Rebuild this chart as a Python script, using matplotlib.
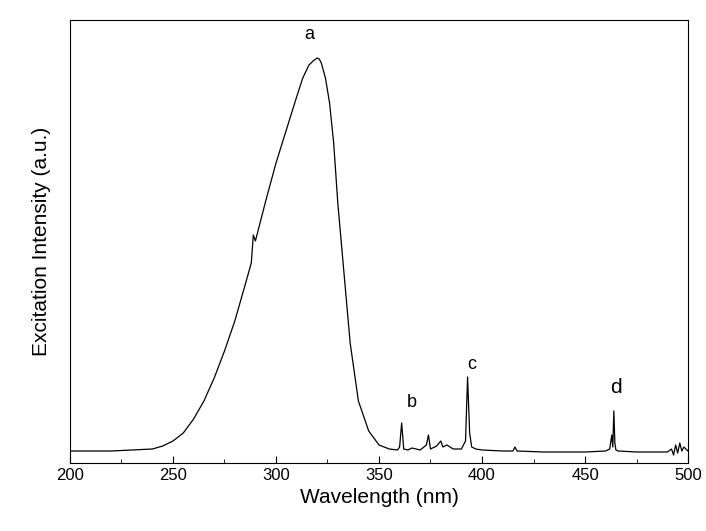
import numpy as np
import matplotlib.pyplot as plt

# wavelength (nm) and intensity (a.u.)
wavelength = [200, 220, 240, 245, 250, 255, 260, 265, 270, 275, 280, 285, 288, 289, 290,
              295, 300, 305, 310, 313, 316, 318, 320, 321, 322, 324, 326, 328, 330, 333,
              336, 340, 345, 350, 355, 359, 360, 361, 362, 364, 366, 370, 373, 374, 375,
              378, 380, 381, 383, 386, 390, 392, 393, 394, 395, 397, 400, 410, 415, 416,
              417, 430, 450, 460, 462, 463, 463.5, 464, 464.5, 465, 466, 475, 490, 492,
              493, 494, 495, 496, 497, 498, 500]
intensity = [12, 12, 14, 17, 22, 30, 44, 62, 85, 112, 142, 178, 200, 228, 222,
             262, 300, 333, 366, 385, 398, 402, 405, 404, 400, 385, 360, 320, 260, 190,
             120, 62, 32, 18, 14, 13, 16, 40, 14, 13, 15, 13, 18, 28, 14,
             17, 22, 16, 18, 14, 14, 22, 86, 30, 16, 14, 13, 12, 12, 16,
             12, 11, 11, 12, 14, 28, 16, 52, 20, 13, 12, 11, 11, 14,
             8, 18, 10, 20, 12, 16, 12]
peak_labels = ["a", "b", "c", "d"]
label_x = [316, 366, 395, 465]
label_y = [420, 52, 90, 66]

fig = plt.figure(figsize=(7.06, 5.31), dpi=100)
ax = fig.add_axes([70/706, 1-463/531, 618/706, 443/531])
ax.plot(wavelength, intensity, color="black", lw=0.9)
for t, x, y in zip(peak_labels, label_x, label_y):
    ax.text(x, y, t, fontsize=15 if t == "d" else 13, ha="center", va="bottom",
            family="Liberation Sans")

ax.set_xlim(200, 500)
ax.set_ylim(0, 443)
ax.set_yticks([])
ax.set_xticks(np.arange(200, 501, 50))
ax.set_xticks(np.arange(200, 501, 25), minor=True)
ax.tick_params(which="both", direction="in", top=False, right=False)
ax.tick_params(which="major", length=5, labelsize=12)
ax.tick_params(which="minor", length=3)
for lab in ax.get_xticklabels():
    lab.set_family("Liberation Sans")
ax.set_xlabel("Wavelength (nm)", fontsize=15, family="Liberation Sans")
ax.set_ylabel("Excitation Intensity (a.u.)", fontsize=15, family="Liberation Sans", labelpad=14)
fig.savefig("out.png", dpi=100)
